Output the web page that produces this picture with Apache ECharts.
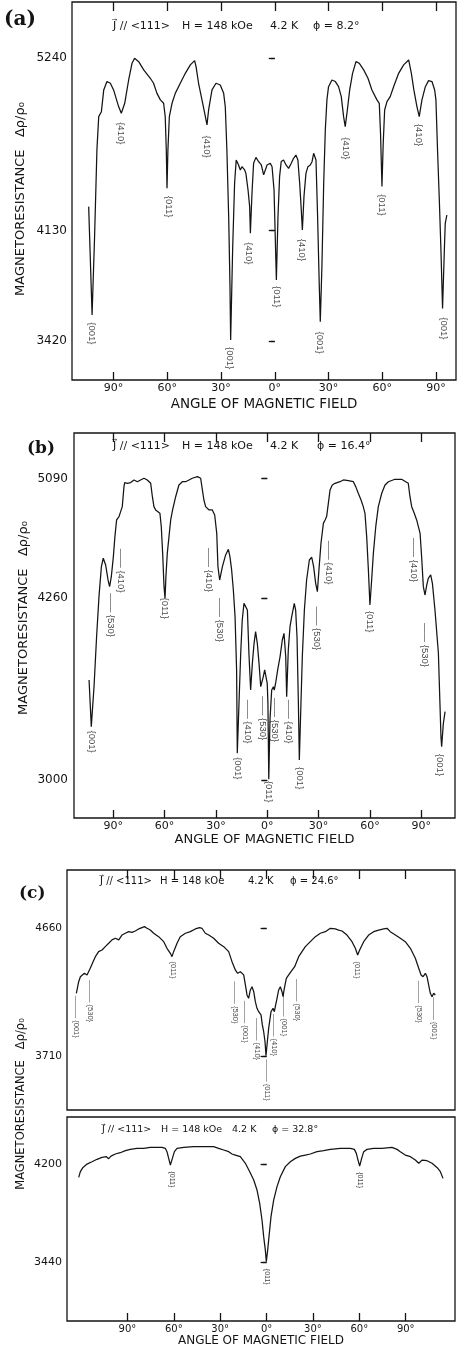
<!DOCTYPE html>
<html>
<head>
<meta charset="utf-8">
<script src="https://cdn.jsdelivr.net/npm/echarts@6/dist/echarts.min.js"></script>
<style>
html, body { margin: 0; padding: 0; background: #fff; }
#chart { width: 457px; height: 1349px; }
</style>
</head>
<body>
<div id="chart"></div>
<script>
// tick values
var xTicks = [-90, -60, -30, 0, 30, 60, 90];
var yTicksA = [3420, 4130, 5240];
var yTicksB = [3000, 4260, 5090];
var yTicksC = [3710, 4660];
var yTicksD = [3440, 4200];

// phi of each run
var phiText = ['8.2°', '16.4°', '24.6°', '32.8°'];

// curves: [angle of field (deg), magnetoresistance]
var curveA = [[-103.8,4285],[-101.9,3587],[-100.5,4092],[-99.2,4650],[-98.2,4864],[-96.7,4896],[-95.4,5036],[-93.6,5090],[-91.7,5079],[-89.9,5036],[-87.1,4929],[-85.6,4886],[-83.7,4950],[-81.5,5100],[-79.6,5208],[-78.2,5240],[-75.9,5218],[-73.1,5165],[-69.4,5111],[-67.6,5079],[-65.7,5014],[-63.8,4972],[-62.0,4950],[-61.1,4864],[-60.5,4650],[-60.1,4403],[-59.6,4650],[-58.8,4864],[-57.3,4950],[-55.5,5014],[-52.7,5079],[-49.9,5143],[-47.1,5197],[-44.7,5225],[-43.9,5186],[-42.5,5079],[-40.6,4972],[-38.7,4864],[-37.8,4811],[-36.9,4907],[-35.0,5036],[-32.8,5079],[-30.4,5068],[-28.5,5014],[-27.6,4929],[-26.7,4650],[-25.7,4220],[-25.0,3791],[-24.6,3426],[-23.5,4006],[-22.4,4435],[-21.5,4585],[-20.2,4553],[-19.2,4521],[-18.3,4542],[-16.8,4521],[-16.1,4499],[-14.9,4392],[-14.0,4285],[-13.6,4113],[-12.7,4371],[-11.8,4564],[-10.5,4602],[-9.0,4574],[-7.5,4553],[-6.2,4489],[-5.3,4499],[-4.3,4553],[-2.5,4564],[-1.5,4542],[-0.4,4392],[0.9,3813],[1.8,4220],[2.7,4478],[3.6,4575],[4.9,4585],[6.3,4553],[7.7,4531],[9.2,4564],[10.5,4596],[11.8,4617],[12.9,4585],[13.9,4435],[14.8,4263],[15.4,4135],[16.3,4349],[17.4,4499],[18.5,4542],[19.8,4553],[20.8,4574],[21.7,4628],[22.2,4639],[23.0,4585],[23.9,4220],[24.8,3791],[25.4,3544],[26.3,3898],[27.3,4435],[28.2,4778],[29.1,4972],[30.0,5057],[31.9,5100],[33.8,5090],[35.6,5057],[37.1,4993],[38.4,4864],[39.3,4800],[40.5,4907],[41.8,5036],[43.4,5143],[45.3,5218],[47.1,5208],[49.6,5165],[52.0,5111],[54.2,5036],[57.0,4972],[58.3,4950],[59.0,4757],[59.8,4414],[60.5,4693],[61.3,4907],[62.6,4961],[64.4,4993],[66.3,5057],[69.1,5143],[71.9,5197],[74.7,5229],[76.2,5143],[77.6,5036],[79.3,4929],[80.6,4864],[82.1,4972],[84.0,5057],[85.8,5096],[87.7,5090],[89.2,5036],[89.9,4972],[90.8,4650],[91.8,4328],[92.7,4006],[93.6,3630],[94.6,4006],[95.1,4177],[96.0,4231]];

var curveB = [[-104.1,3694],[-102.8,3370],[-101.2,3647],[-99.7,3994],[-98.3,4272],[-96.9,4480],[-95.8,4538],[-94.4,4491],[-93.0,4387],[-92.1,4341],[-91.1,4410],[-89.9,4549],[-89.0,4688],[-88.0,4804],[-86.6,4827],[-84.7,4896],[-83.7,5035],[-83.3,5063],[-81.7,5058],[-79.8,5063],[-77.8,5081],[-75.9,5069],[-74.0,5081],[-72.0,5093],[-70.1,5081],[-68.1,5058],[-67.1,4965],[-66.2,4896],[-65.2,4873],[-64.2,4861],[-62.7,4850],[-61.9,4757],[-61.1,4572],[-60.3,4341],[-59.7,4260],[-59.2,4410],[-58.4,4572],[-57.4,4688],[-56.4,4804],[-55.3,4873],[-53.5,4965],[-51.6,5046],[-49.6,5069],[-47.7,5069],[-45.7,5081],[-43.8,5093],[-40.8,5104],[-38.9,5093],[-37.9,5012],[-37.0,4942],[-36.0,4896],[-34.0,4873],[-32.1,4873],[-30.7,4838],[-29.5,4711],[-28.8,4480],[-27.8,4387],[-26.2,4480],[-24.3,4561],[-22.7,4600],[-21.8,4549],[-20.8,4457],[-19.8,4318],[-18.8,4133],[-17.9,3763],[-17.5,3185],[-16.5,3532],[-15.5,3879],[-14.6,4110],[-13.6,4225],[-12.6,4237],[-11.6,4179],[-10.7,3879],[-9.7,3624],[-8.7,3809],[-7.7,3948],[-6.8,4029],[-5.8,3948],[-4.8,3809],[-3.8,3647],[-3.3,3636],[-2.3,3717],[-1.5,3763],[-0.7,3775],[0.0,3670],[0.4,3532],[0.9,3005],[1.6,3416],[2.6,3624],[3.6,3647],[4.1,3624],[4.9,3671],[6.1,3763],[7.5,3856],[8.8,3971],[9.8,4017],[10.8,3856],[11.35,3578],[12.3,3902],[13.3,4064],[14.3,4133],[15.8,4225],[16.6,4179],[17.4,3994],[18.2,3532],[18.75,3139],[19.7,3532],[20.5,3856],[21.7,4179],[23.0,4387],[24.6,4526],[26.0,4545],[27.1,4480],[28.3,4364],[29.3,4306],[30.2,4457],[31.4,4642],[32.8,4780],[33.8,4804],[34.7,4827],[35.7,4919],[36.7,5012],[38.0,5046],[39.6,5058],[42.5,5069],[44.5,5081],[47.4,5076],[50.3,5069],[51.7,5035],[53.2,4989],[54.8,4942],[56.1,4896],[57.1,4850],[58.1,4688],[59.1,4457],[60.0,4214],[61.0,4387],[62.0,4572],[63.4,4757],[64.9,4896],[66.9,4989],[68.8,5046],[70.8,5069],[74.6,5086],[78.5,5086],[80.9,5069],[82.4,5058],[83.4,4965],[84.4,4896],[85.9,4850],[87.3,4804],[88.3,4804],[89.3,4711],[90.2,4549],[91.2,4341],[92.2,4283],[93.2,4353],[94.1,4399],[95.5,4422],[96.5,4364],[98.0,4179],[100.0,3879],[100.9,3532],[101.5,3300],[101.9,3231],[102.9,3393],[103.9,3474]];

var curveC = [[-123.0,4179],[-121.5,4265],[-120.4,4302],[-119.35,4315],[-117.8,4327],[-116.1,4315],[-115.0,4327],[-114.0,4364],[-112.2,4413],[-110.7,4450],[-108.6,4487],[-106.4,4499],[-104.3,4524],[-102.1,4549],[-99.95,4574],[-97.8,4586],[-95.6,4574],[-93.5,4610],[-91.3,4623],[-89.2,4635],[-87.0,4630],[-84.9,4640],[-82.7,4655],[-80.55,4665],[-79.0,4672],[-77.3,4660],[-75.2,4647],[-73.0,4623],[-69.8,4598],[-66.5,4561],[-64.4,4512],[-62.2,4475],[-61.15,4450],[-60.1,4487],[-57.9,4549],[-55.8,4598],[-52.5,4623],[-49.3,4635],[-46.1,4655],[-43.3,4665],[-41.75,4660],[-39.6,4623],[-37.4,4610],[-34.2,4586],[-31.0,4549],[-27.7,4524],[-24.5,4487],[-22.35,4413],[-20.2,4352],[-18.7,4327],[-16.96,4339],[-15.9,4352],[-14.8,4315],[-13.7,4241],[-12.65,4167],[-11.6,4142],[-10.5,4204],[-9.4,4228],[-8.3,4191],[-7.26,4117],[-6.19,4068],[-5.1,4043],[-4.46,4056],[-3.6,4019],[-2.74,3945],[-1.87,3895],[-1.0,3821],[-0.36,3718],[0.28,3797],[1.36,3920],[2.87,4043],[4.16,4068],[5.02,4043],[5.89,4093],[6.75,4142],[7.83,4204],[8.9,4228],[9.98,4191],[10.63,4154],[11.49,4216],[12.78,4290],[14.29,4315],[15.8,4339],[17.09,4352],[18.17,4376],[19.25,4389],[20.76,4450],[22.92,4487],[25.07,4524],[28.3,4561],[31.54,4598],[34.77,4623],[38.0,4635],[41.24,4660],[44.47,4655],[46.62,4647],[48.78,4640],[52.0,4610],[55.25,4561],[57.4,4512],[58.91,4462],[60.2,4499],[62.8,4561],[66.0,4610],[69.26,4635],[72.5,4647],[75.7,4655],[77.9,4660],[80.0,4635],[83.3,4610],[86.5,4586],[89.7,4561],[93.0,4512],[96.2,4438],[98.4,4364],[99.9,4315],[101.2,4302],[102.7,4327],[103.75,4302],[104.8,4241],[105.9,4179],[107.0,4154],[108.06,4179],[109.1,4167]];

var curveD = [[-121.5,4099],[-120.4,4143],[-118.7,4176],[-116.1,4202],[-112.9,4220],[-109.65,4239],[-106.4,4254],[-103.6,4259],[-102.1,4244],[-100.6,4264],[-97.8,4280],[-94.6,4290],[-91.3,4306],[-88.1,4316],[-83.8,4324],[-79.5,4324],[-75.2,4332],[-70.85,4332],[-67.6,4332],[-65.5,4324],[-64.4,4298],[-63.3,4246],[-62.2,4195],[-60.9,4246],[-59.6,4298],[-57.9,4324],[-53.6,4332],[-47.1,4337],[-40.7,4337],[-34.2,4337],[-31.0,4324],[-27.7,4311],[-24.5,4298],[-22.35,4280],[-20.2,4272],[-16.96,4259],[-13.7,4208],[-10.9,4143],[-8.3,4078],[-6.19,4001],[-4.46,3897],[-2.95,3768],[-1.87,3639],[-0.8,3535],[-0.15,3445],[0.71,3535],[1.57,3639],[2.87,3794],[4.59,3923],[6.75,4027],[8.9,4104],[12.14,4182],[15.37,4220],[18.6,4246],[21.84,4264],[25.07,4272],[28.3,4280],[32.6,4298],[36.9,4306],[41.24,4316],[47.7,4324],[54.2,4324],[56.76,4316],[58.05,4285],[59.13,4233],[60.2,4187],[61.5,4246],[62.8,4298],[64.95,4316],[69.26,4324],[74.65,4324],[81.1,4332],[84.35,4316],[86.5,4298],[89.7,4272],[93.0,4259],[96.2,4233],[98.4,4208],[100.5,4233],[103.75,4228],[107.0,4208],[110.2,4176],[112.4,4143],[114.1,4091]];

// dip labels: [angle, value, planes, leader line above (1/0)]
var labelsA = [[-101.9,3469,'{001}',0],[-86.1,4757,'{410}',0],[-59.2,4285,'{011}',0],[-37.8,4671,'{410}',0],[-25.0,3310,'{001}',0],[-14.6,3984,'{410}',0],[0.9,3705,'{011}',0],[15.2,4006,'{410}',0],[25.2,3410,'{001}',0],[39.3,4660,'{410}',0],[59.8,4296,'{011}',0],[80.2,4746,'{410}',0],[94.2,3501,'{001}',0]];
var labelsB = [[-102.8,3266,'{001}',0],[-91.5,4144,'{530}',1],[-85.6,4452,'{410}',1],[-59.7,4191,'{011}',0],[-34.0,4457,'{410}',1],[-27.8,4110,'{530}',1],[-17.5,3081,'{001}',0],[-11.6,3405,'{410}',1],[-2.9,3428,'{530}',1],[0.9,2919,'{011}',0],[4.5,3416,'{530}',1],[12.3,3405,'{410}',1],[18.75,3012,'{001}',0],[28.9,4052,'{530}',1],[35.7,4508,'{410}',1],[60.0,4098,'{011}',0],[85.4,4526,'{410}',1],[92.2,3936,'{530}',1],[100.9,3104,'{001}',0]];
var labelsC = [[-123.0,4006,'{001}',1],[-114.4,4122,'{530}',1],[-60.5,4351,'{011}',0],[-20.2,4112,'{530}',1],[-13.7,3969,'{001}',1],[-6.2,3841,'{410}',1],[0.28,3538,'{011}',1],[5.0,3871,'{410}',1],[11.0,4018,'{001}',1],[19.7,4129,'{530}',1],[58.5,4351,'{011}',0],[98.4,4117,'{530}',1],[108.0,3994,'{001}',1]];
var labelsD = [[-61.15,4083,'{011}',0],[0.28,3328,'{011}',0],[60.2,4078,'{011}',0]];

var INK = '#141414';
var SANS = 'DejaVu Sans';
var TAG = "'Liberation Sans', Arial, sans-serif";

var chart = echarts.init(document.getElementById('chart'));

// grids of the four runs
var grids = [
    {left: 72, top: 2, width: 384, height: 378},
    {left: 74, top: 433, width: 381, height: 385},
    {left: 67, top: 870, width: 388, height: 240},
    {left: 67, top: 1117, width: 388, height: 204}
];
var xRange = [[-113.1, 101.1], [-112.9, 109.7], [-129.05, 121.85], [-129.05, 121.85]];
var yRange = [[3169, 5602], [2736, 5407], [3316, 5091], [2985, 4567]];
var yTicks = [yTicksA, yTicksB, yTicksC, yTicksD];
var curves = [curveA, curveB, curveC, curveD];
var dipLabels = [labelsA, labelsB, labelsC, labelsD];

// per panel look
var look = [
    {bottomTicks: true, bottomLabels: true, topTicks: true, xFont: 11, nameFont: 13.5, nameGap: 17, yFont: 12, yMargin: 5, tagFont: 9.5, lead: '——'},
    {bottomTicks: true, bottomLabels: true, topTicks: true, xFont: 11, nameFont: 13, nameGap: 15.5, yFont: 12, yMargin: 6, tagFont: 9.5, lead: '——'},
    {bottomTicks: false, bottomLabels: false, topTicks: true, xFont: 10, nameFont: 12, nameGap: 14, yFont: 10.5, yMargin: 5, tagFont: 7.5, lead: '———'},
    {bottomTicks: true, bottomLabels: true, topTicks: false, xFont: 10, nameFont: 12, nameGap: 14, yFont: 11, yMargin: 5, tagFont: 7, lead: ''}
];

var xAxes = [], yAxes = [], series = [];
grids.forEach(function (g, i) {
    g.show = true;
    g.borderColor = INK;
    g.borderWidth = 1.3;
    g.outerBoundsMode = 'none';
    var lk = look[i];
    xAxes.push({
        type: 'value', gridIndex: i, position: 'bottom',
        min: xRange[i][0], max: xRange[i][1],
        axisLine: {show: false}, splitLine: {show: false},
        axisTick: {show: lk.bottomTicks, inside: true, length: 8, customValues: xTicks, lineStyle: {color: INK, width: 1.3}},
        axisLabel: {show: lk.bottomLabels, customValues: xTicks, margin: 3, fontFamily: SANS, fontSize: lk.xFont, color: INK,
            formatter: function (v) { return Math.abs(v) + '°'; }},
        name: lk.bottomLabels ? 'ANGLE OF MAGNETIC FIELD' : '',
        nameLocation: 'middle', nameGap: lk.nameGap,
        nameTextStyle: {fontFamily: SANS, fontSize: lk.nameFont, color: INK}
    });
    xAxes.push({
        type: 'value', gridIndex: i, position: 'top',
        min: xRange[i][0], max: xRange[i][1],
        axisLine: {show: false}, splitLine: {show: false}, axisLabel: {show: false},
        axisTick: {show: lk.topTicks, inside: true, length: 9, customValues: xTicks, lineStyle: {color: INK, width: 1.3}}
    });
    yAxes.push({
        type: 'value', gridIndex: i, position: 'left',
        min: yRange[i][0], max: yRange[i][1],
        axisLine: {show: false}, splitLine: {show: false},
        axisTick: {show: true, inside: false, length: lk.yMargin - 1, customValues: yTicks[i], lineStyle: {color: INK, width: 1.3}},
        axisLabel: {customValues: yTicks[i], margin: lk.yMargin, fontFamily: SANS, fontSize: lk.yFont, color: INK,
            formatter: function (v) { return String(v); }}
    });
    yAxes.push({
        type: 'value', gridIndex: i, position: 'right',
        min: yRange[i][0], max: yRange[i][1],
        axisLine: {show: false}, splitLine: {show: false}, axisLabel: {show: false},
        axisTick: {show: true, inside: true, length: 6, customValues: yTicks[i], lineStyle: {color: INK, width: 1.3}}
    });

    series.push({
        type: 'line', xAxisIndex: i * 2, yAxisIndex: i * 2,
        data: curves[i], symbol: 'none', silent: true,
        lineStyle: {color: INK, width: 1.25}
    });
    series.push({
        type: 'scatter', xAxisIndex: i * 2, yAxisIndex: i * 2,
        symbolSize: 1, silent: true, itemStyle: {color: 'rgba(0,0,0,0)'},
        data: dipLabels[i].map(function (d) {
            return {value: [d[0], d[1]], planes: d[2], lead: d[3]};
        }),
        label: {
            show: true, position: 'inside', rotate: -90,
            fontFamily: TAG, fontSize: lk.tagFont, color: INK,
            formatter: function (p) {
                return (p.data.lead ? lk.lead + ' ' : '') + p.data.planes;
            }
        }
    });
});

// run conditions written inside each box
var noteX = [[113, 182, 270, 313], [113, 182, 270, 317], [100, 160, 248, 290], [102, 161, 232, 272]];
var noteTop = [21, 441, 876, 1125];
var noteFont = [11, 11, 10, 9.5];
var titles = [];
noteX.forEach(function (xs, i) {
    var parts = ['J⃗ // <111>', 'H = 148 kOe', '4.2 K', 'ϕ = ' + phiText[i]];
    parts.forEach(function (t, k) {
        titles.push({text: t, left: xs[k], top: noteTop[i], padding: 0,
            textStyle: {fontFamily: SANS, fontSize: noteFont[i], fontWeight: 'normal', color: INK}});
    });
});
// panel letters
[['(a)', 4, 10, 20], ['(b)', 27, 440, 17], ['(c)', 19, 885, 17]].forEach(function (p) {
    titles.push({text: p[0], left: p[1], top: p[2], padding: 0,
        textStyle: {fontFamily: 'DejaVu Serif', fontSize: p[3], fontWeight: 'bold', color: INK}});
});

// vertical axis names
var yName = 'MAGNETORESISTANCE   Δρ/ρ₀';
var graphics = [[21, 199, 13], [24, 618, 13], [21, 1104, 11.5]].map(function (p) {
    return {
        type: 'text', x: p[0], y: p[1], rotation: Math.PI / 2, silent: true,
        style: {text: yName, fontFamily: SANS, fontSize: p[2], fill: INK, align: 'center', verticalAlign: 'middle'}
    };
});

chart.setOption({
    animation: false,
    backgroundColor: '#fff',
    title: titles,
    graphic: graphics,
    grid: grids,
    xAxis: xAxes,
    yAxis: yAxes,
    series: series
});
</script>
</body>
</html>
